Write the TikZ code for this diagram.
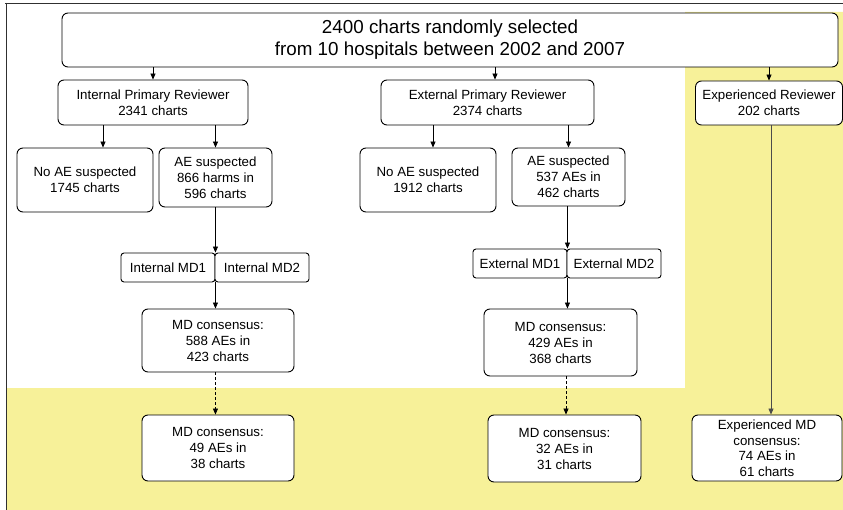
\documentclass[tikz,border=0pt]{standalone}
\usepackage{fontspec}
\setmainfont{Liberation Sans}
\usetikzlibrary{positioning,shapes,arrows.meta,calc}
\definecolor{paleyellow}{HTML}{F7F199}
\definecolor{framegray}{HTML}{303030}

\begin{document}
\begin{tikzpicture}[x=1pt,y=-1pt,
    box/.style={draw, line width=0.9pt, rounded corners=6pt, fill=white,
      align=center, inner sep=0pt, font=\fontsize{13.3}{16}\selectfont},
    mdbox/.style={box, rounded corners=3pt, minimum width=94pt, minimum height=29pt},
    arr/.style={line width=0.7pt, -{Triangle[length=6pt,width=5pt]}},
    darr/.style={arr, dash pattern=on 3pt off 2pt}]
      \useasboundingbox (0,0) rectangle (843,510);
      % shaded background and frame
      \fill[paleyellow] (6,388) -- (685,388) -- (685,12) -- (843,12)
        -- (843,510) -- (6,510) -- cycle;
      \draw[framegray, line width=0.9pt] (5,3) -- (843,3);
      \draw[framegray, line width=0.9pt] (6,3) -- (6,510);

      \node[box, font=\fontsize{18.8}{22}\selectfont, minimum width=776pt, minimum height=54pt]
        (charts) at (450,40) {2400 charts randomly selected\\from 10 hospitals between 2002 and 2007};

      \node[box, minimum width=190pt, minimum height=45pt] (ipr) at (153,102.5) {Internal Primary Reviewer\\2341 charts};
      \node[box, minimum width=213pt, minimum height=45pt] (epr) at (487.5,102.5) {External Primary Reviewer\\2374 charts};
      \node[box, minimum width=147pt, minimum height=44pt] (exr) at (769,103) {Experienced Reviewer\\202 charts};

      \node[box, minimum width=136pt, minimum height=64pt] (noaeI) at (85,180) {No AE suspected\\1745 charts};
      \node[box, minimum width=113pt, minimum height=59pt] (aeI) at (215.5,177.5) {AE suspected\\866 harms in\\596 charts};
      \node[box, minimum width=136pt, minimum height=64pt] (noaeE) at (428,180) {No AE suspected\\1912 charts};
      \node[box, minimum width=113pt, minimum height=58pt] (aeE) at (568.5,177) {AE suspected\\537 AEs in\\462 charts};

      \node[mdbox] (imd1) at (168,267.5) {Internal MD1};
      \node[mdbox] (imd2) at (262,267.5) {Internal MD2};
      \node[mdbox] (emd1) at (520,263.5) {External MD1};
      \node[mdbox] (emd2) at (614,263.5) {External MD2};

      \node[box, minimum width=152pt, minimum height=63pt] (icons) at (218,340.5) {MD consensus:\\588 AEs in\\423 charts};
      \node[box, minimum width=153pt, minimum height=67pt] (econs) at (560.5,342.5) {MD consensus:\\429 AEs in\\368 charts};

      \node[box, minimum width=152pt, minimum height=66pt] (ifin) at (218,448) {MD consensus:\\49 AEs in\\38 charts};
      \node[box, minimum width=153pt, minimum height=67pt] (efin) at (564.5,448.5) {MD consensus:\\32 AEs in\\31 charts};
      \node[box, minimum width=150pt, minimum height=66pt, font=\fontsize{13.3}{15.5}\selectfont]
        (xfin) at (767,448) {Experienced MD\\consensus:\\74 AEs in\\61 charts};

      % connectors
      \draw[arr] (charts.south -| ipr.north) -- (ipr.north);
      \draw[arr] (charts.south -| 495,0) -- (epr.north -| 495,0);
      \draw[arr] (charts.south -| exr.north) -- (exr.north);

      \draw[arr] (ipr.south -| 103,0) -- (noaeI.north -| 103,0);
      \draw[arr] (ipr.south -| aeI.north) -- (aeI.north);
      \draw[arr] (epr.south -| 433,0) -- (noaeE.north -| 433,0);
      \draw[arr] (epr.south -| aeE.north) -- (aeE.north);

      \draw[arr] (aeI.south -| imd1.north east) -- (imd1.north east);
      \draw[arr] (imd1.south east) -- (icons.north -| imd1.south east);
      \draw[arr] (aeE.south -| emd1.north east) -- (emd1.north east);
      \draw[arr] (emd1.south east) -- (econs.north -| emd1.south east);

      \draw[darr] (icons.south -| imd1.south east) -- (ifin.north -| imd1.south east);
      \draw[darr] (econs.south -| 566,0) -- (efin.north -| 566,0);
      \draw[arr, black!70] (exr.south -| 771,0) -- (xfin.north -| 771,0);
    \end{tikzpicture}
\end{document}
